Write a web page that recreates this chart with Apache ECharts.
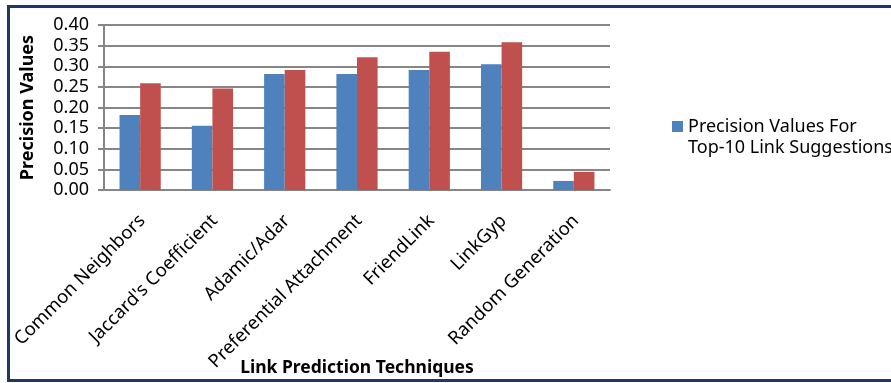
<!DOCTYPE html>
<html>
<head>
<meta charset="utf-8">
<script src="https://cdn.jsdelivr.net/npm/echarts@6/dist/echarts.min.js"></script>
<style>
  html, body { margin: 0; padding: 0; background: #ffffff; }
  #chart { width: 891px; height: 383px; }
</style>
</head>
<body>
<div id="chart"></div>
<script>
// Link prediction techniques compared by precision
const categories = [
  'Common Neighbors',
  "Jaccard's Coefficient",
  'Adamic/Adar',
  'Preferential Attachment',
  'FriendLink',
  'LinkGyp',
  'Random Generation'
];
const top10Name = 'Precision Values For\nTop-10 Link Suggestions';
const top10Values = [0.182, 0.156, 0.281, 0.281, 0.291, 0.305, 0.022];
const secondName = 'Precision Values (second run)';
const secondValues = [0.259, 0.246, 0.291, 0.322, 0.335, 0.358, 0.044];
const yTicks = { min: 0, max: 0.4, step: 0.05 };

const chart = echarts.init(document.getElementById('chart'));
const font = 'Noto Sans';

chart.setOption({
  animation: false,
  backgroundColor: '#ffffff',
  graphic: [{
    type: 'rect',
    shape: { x: 8.5, y: 6.5, width: 900, height: 374 },
    style: { fill: 'none', stroke: '#1f3864', lineWidth: 3 },
    silent: true
  }],
  grid: { left: 104, right: 281, top: 25, bottom: 193, outerBoundsMode: 'none', containLabel: false },
  legend: {
    data: [top10Name],
    left: 672,
    top: 95,
    padding: 0,
    icon: 'rect',
    itemWidth: 11,
    itemHeight: 11,
    itemGap: 5,
    // a leading blank line keeps the swatch level with the first text line
    formatter: name => '\n' + name,
    textStyle: { fontFamily: font, fontSize: 18, color: '#000', lineHeight: 21 }
  },
  xAxis: {
    type: 'category',
    data: categories,
    name: 'Link Prediction Techniques',
    nameLocation: 'middle',
    nameGap: 169,
    nameMoveOverlap: false,
    nameTextStyle: { fontFamily: font, fontSize: 17.5, fontWeight: 'bold', color: '#000' },
    axisLine: { lineStyle: { color: '#868686', width: 2 } },
    axisTick: { show: false },
    axisLabel: {
      rotate: 45,
      interval: 0,
      margin: 30,
      padding: [0, -3, 0, 0],
      fontFamily: font,
      fontSize: 18.5,
      color: '#000'
    }
  },
  yAxis: {
    type: 'value',
    min: yTicks.min,
    max: yTicks.max,
    interval: yTicks.step,
    name: 'Precision Values',
    nameLocation: 'middle',
    nameGap: 67,
    nameTextStyle: { fontFamily: font, fontSize: 18, fontWeight: 'bold', color: '#000' },
    axisLine: { show: true, lineStyle: { color: '#868686', width: 2 } },
    axisTick: { show: true, length: 6, lineStyle: { color: '#868686', width: 2 } },
    splitLine: { lineStyle: { color: '#868686', width: 2 } },
    axisLabel: {
      margin: 15,
      fontFamily: font,
      fontSize: 18,
      color: '#000',
      formatter: v => v.toFixed(2)
    }
  },
  series: [
    {
      name: top10Name,
      type: 'bar',
      data: top10Values,
      barGap: '0%',
      barCategoryGap: '43%',
      itemStyle: { color: '#4f81bd' }
    },
    {
      name: secondName,
      type: 'bar',
      data: secondValues,
      itemStyle: { color: '#c0504d' }
    }
  ]
});
</script>
</body>
</html>
